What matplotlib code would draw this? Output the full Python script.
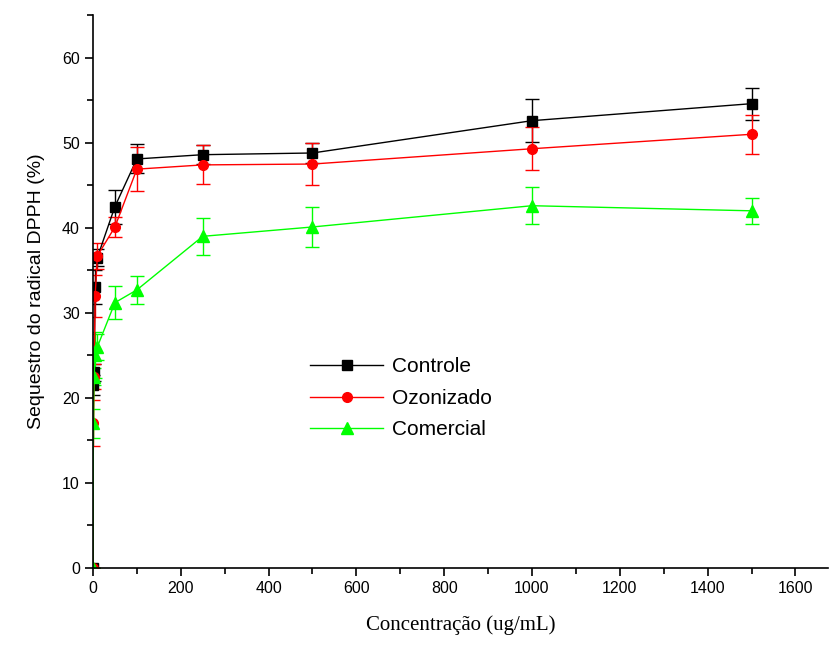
import numpy as np
import matplotlib
matplotlib.use("Agg")
from matplotlib import pyplot as plt
from matplotlib.ticker import MultipleLocator

conc = [0, 1, 2.5, 5, 10, 50, 100, 250, 500, 1000, 1500]

controle = [0, 21.5, 23.0, 33.0, 36.5, 42.5, 48.1, 48.6, 48.8, 52.6, 54.6]
controle_err = [0, 1.2, 1.0, 2.0, 1.0, 2.0, 1.7, 1.1, 1.2, 2.5, 1.9]

ozonizado = [0, 17.0, 22.5, 32.0, 36.7, 40.1, 46.9, 47.4, 47.5, 49.3, 51.0]
ozonizado_err = [0, 2.7, 1.5, 2.5, 1.5, 1.2, 2.6, 2.3, 2.5, 2.5, 2.3]

comercial = [0, 17.0, 22.5, 25.0, 26.0, 31.2, 32.7, 39.0, 40.1, 42.6, 42.0]
comercial_err = [0, 1.7, 1.0, 2.7, 1.5, 1.9, 1.6, 2.2, 2.4, 2.2, 1.5]

series = [
    ("Controle", controle, controle_err, "black", "s", 7),
    ("Ozonizado", ozonizado, ozonizado_err, "red", "o", 7),
    ("Comercial", comercial, comercial_err, "#00ff00", "^", 9),
]

fig = plt.figure(figsize=(8.3, 6.48), dpi=100)
ax = fig.add_axes([0.112, 0.1235, 0.886, 0.853])

lines = []
for name, vals, errs, col, mk, ms in series:
    cont = ax.errorbar(conc, vals, yerr=errs, color=col, marker=mk,
                       markersize=ms, linewidth=1, elinewidth=1, capsize=5,
                       capthick=1, label=name)
    lines.append(cont[0])

ax.set_xlim(0, 1675)
ax.set_ylim(0, 65)
ax.xaxis.set_major_locator(MultipleLocator(200))
ax.xaxis.set_minor_locator(MultipleLocator(100))
ax.yaxis.set_major_locator(MultipleLocator(10))
ax.yaxis.set_minor_locator(MultipleLocator(5))
ax.spines["top"].set_visible(False)
ax.spines["right"].set_visible(False)
ax.spines["left"].set_linewidth(1.2)
ax.spines["bottom"].set_linewidth(1.2)
ax.tick_params(which="major", direction="out", length=6, width=1.2,
               labelsize=11.5)
ax.tick_params(which="minor", direction="out", length=4, width=1.2)
for lab in ax.get_xticklabels() + ax.get_yticklabels():
    lab.set_family("Liberation Sans")

ax.set_xlabel("Concentração (ug/mL)", family="Liberation Serif", fontsize=15,
              labelpad=14)
ax.set_ylabel("Sequestro do radical DPPH (%)", family="Liberation Sans",
              fontsize=14, labelpad=12)

ax.legend(lines, [s[0] for s in series], loc="upper left",
          bbox_to_anchor=(0.27, 0.415), frameon=False,
          prop={"family": "Liberation Sans", "size": 15}, handlelength=3.5,
          labelspacing=0.6, handletextpad=0.4)

fig.savefig("out.png", dpi=100)
